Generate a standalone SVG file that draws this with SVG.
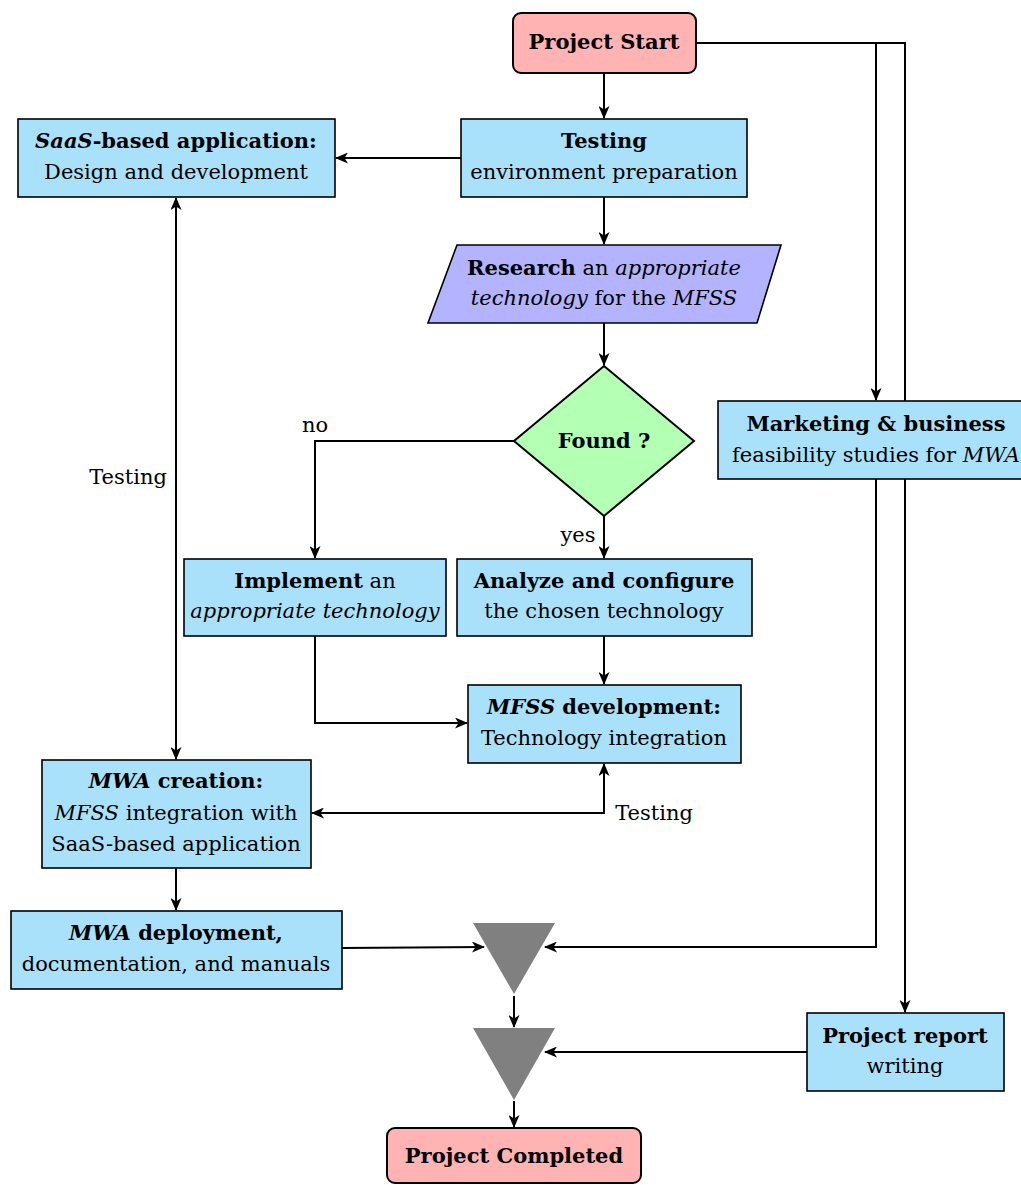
<svg xmlns="http://www.w3.org/2000/svg" width="1021" height="1185" viewBox="0 0 1021 1185" font-family="'DejaVu Serif', serif">
<style>
text{font-family:"DejaVu Serif",serif;font-size:21px;fill:#000;text-anchor:middle}
.b{font-weight:bold}
.i{font-style:italic}
.box{fill:#aae1fa;stroke:#000;stroke-width:1.6}
.term{fill:#ffb3b3;stroke:#000;stroke-width:2}
.io{fill:#b3b3ff;stroke:#000;stroke-width:1.6}
.dec{fill:#b3ffb3;stroke:#000;stroke-width:2}
.merge{fill:#808080;stroke:none}
.c{fill:none;stroke:#000;stroke-width:2}
</style>
<defs>
<marker id="ah" viewBox="0 0 13 11" refX="12" refY="5.5" markerWidth="13" markerHeight="11" markerUnits="userSpaceOnUse" orient="auto-start-reverse">
<path d="M0,0 L13,5.5 L0,11 L3.5,5.5 Z" fill="#000"/>
</marker>
</defs>
<g id="connectors">
<path class="c" d="M604,73 V118" marker-end="url(#ah)"/>
<path class="c" d="M461,158 H336" marker-end="url(#ah)"/>
<path class="c" d="M604,197 V244" marker-end="url(#ah)"/>
<path class="c" d="M604,323 V365" marker-end="url(#ah)"/>
<path class="c" d="M514,441 H315 V558" marker-end="url(#ah)"/>
<path class="c" d="M604,516 V558" marker-end="url(#ah)"/>
<path class="c" d="M604,636 V684" marker-end="url(#ah)"/>
<path class="c" d="M315,636 V723 H467" marker-end="url(#ah)"/>
<path class="c" d="M176,198 V759" marker-start="url(#ah)" marker-end="url(#ah)"/>
<path class="c" d="M604,764 V813 H312" marker-start="url(#ah)" marker-end="url(#ah)"/>
<path class="c" d="M176,868 V910" marker-end="url(#ah)"/>
<path class="c" d="M342,948 L484,947" marker-end="url(#ah)"/>
<path class="c" d="M696,43 H876 V400" marker-end="url(#ah)"/>
<path class="c" d="M696,43 H905 V1012" marker-end="url(#ah)"/>
<path class="c" d="M876,479 V947 H545" marker-end="url(#ah)"/>
<path class="c" d="M514,996 V1027" marker-end="url(#ah)"/>
<path class="c" d="M807,1052 H545" marker-end="url(#ah)"/>
<path class="c" d="M514,1101 V1127" marker-end="url(#ah)"/>
<text x="315" y="432">no</text>
<text x="578" y="542">yes</text>
<text x="128" y="484">Testing</text>
<text x="654" y="820">Testing</text>
</g>
<g id="start">
<rect class="term" x="513" y="13" width="183" height="60" rx="8"/>
<text x="604" y="49" class="b">Project Start</text>
</g>
<g id="testing">
<rect class="box" x="461" y="119" width="286" height="78"/>
<text x="604" y="148" class="b">Testing</text>
<text x="604" y="179">environment preparation</text>
</g>
<g id="saas">
<rect class="box" x="18" y="119" width="317" height="78"/>
<text x="176" y="148" class="b"><tspan class="i">SaaS</tspan>-based application:</text>
<text x="176" y="179">Design and development</text>
</g>
<g id="research">
<polygon class="io" points="457,245 781,245 757,323 428,323"/>
<text x="604" y="275"><tspan class="b">Research</tspan> an <tspan class="i">appropriate</tspan></text>
<text x="604" y="305"><tspan class="i">technology</tspan> for the <tspan class="i">MFSS</tspan></text>
</g>
<g id="found">
<polygon class="dec" points="604,366 694,441 604,516 514,441"/>
<text x="604" y="448" class="b">Found ?</text>
</g>
<g id="marketing">
<rect class="box" x="718" y="401" width="316" height="78"/>
<text x="876" y="431" class="b">Marketing &amp; business</text>
<text x="876" y="462">feasibility studies for <tspan class="i">MWA</tspan></text>
</g>
<g id="implement">
<rect class="box" x="184" y="559" width="262" height="77"/>
<text x="315" y="588"><tspan class="b">Implement</tspan> an</text>
<text x="315" y="618" class="i">appropriate technology</text>
</g>
<g id="analyze">
<rect class="box" x="457" y="559" width="295" height="77"/>
<text x="604" y="588" class="b">Analyze and configure</text>
<text x="604" y="618">the chosen technology</text>
</g>
<g id="mfss">
<rect class="box" x="468" y="685" width="273" height="78"/>
<text x="604" y="714" class="b"><tspan class="i">MFSS</tspan> development:</text>
<text x="604" y="745">Technology integration</text>
</g>
<g id="mwa-creation">
<rect class="box" x="42" y="760" width="269" height="108"/>
<text x="176" y="788" class="b"><tspan class="i">MWA</tspan> creation:</text>
<text x="176" y="820"><tspan class="i">MFSS</tspan> integration with</text>
<text x="176" y="851">SaaS-based application</text>
</g>
<g id="mwa-deploy">
<rect class="box" x="11" y="911" width="331" height="78"/>
<text x="176" y="940" class="b"><tspan class="i">MWA</tspan> deployment,</text>
<text x="176" y="971">documentation, and manuals</text>
</g>
<g id="merge1">
<polygon class="merge" points="473,923 555,923 514,994"/>
</g>
<g id="merge2">
<polygon class="merge" points="473,1028 555,1028 514,1100"/>
</g>
<g id="report">
<rect class="box" x="807" y="1013" width="197" height="78"/>
<text x="905" y="1043" class="b">Project report</text>
<text x="905" y="1073">writing</text>
</g>
<g id="completed">
<rect class="term" x="387" y="1128" width="254" height="55" rx="8"/>
<text x="514" y="1163" class="b">Project Completed</text>
</g>
</svg>
